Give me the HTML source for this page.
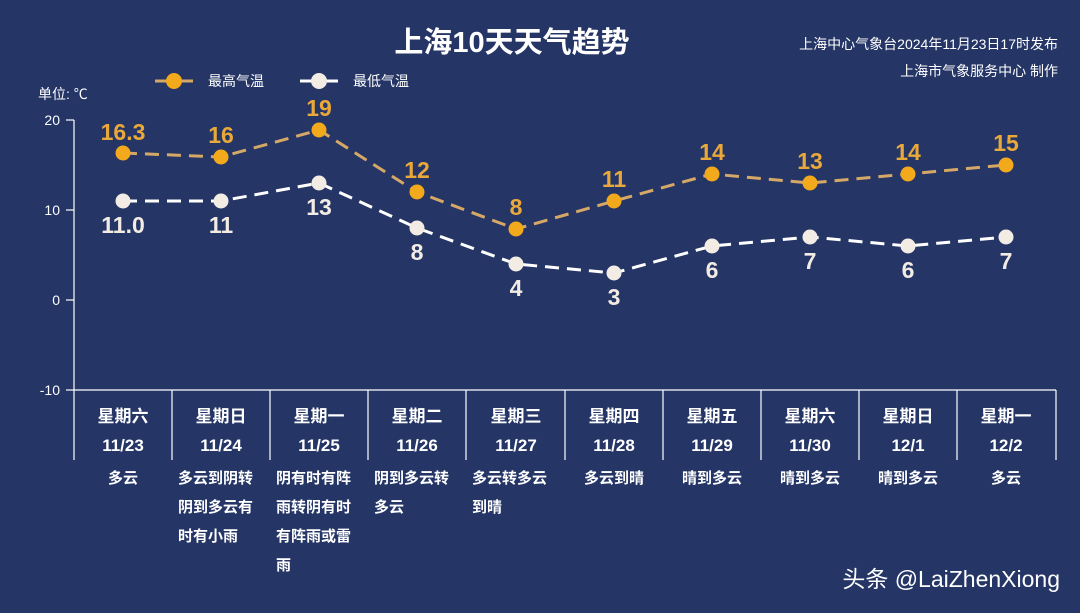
<!DOCTYPE html>
<html><head><meta charset="utf-8"><style>
body{margin:0;background:#243566;}
svg{display:block;font-family:"Liberation Sans","Noto Sans CJK SC",sans-serif;}
</style></head><body>
<svg width="1080" height="613" viewBox="0 0 1080 613" xmlns="http://www.w3.org/2000/svg">
<rect width="1080" height="613" fill="#243566"/>
<text x="512" y="52" text-anchor="middle" font-size="29" font-weight="bold" fill="#fff">上海10天天气趋势</text>
<text x="1058" y="49" text-anchor="end" font-size="14" fill="#fff">上海中心气象台2024年11月23日17时发布</text>
<text x="1058" y="76" text-anchor="end" font-size="14" fill="#fff">上海市气象服务中心 制作</text>
<line x1="155" y1="81" x2="193" y2="81" stroke="#d6a867" stroke-width="3"/>
<circle cx="174" cy="81" r="8" fill="#f2a91c"/>
<text x="208" y="86" font-size="14" fill="#fff">最高气温</text>
<line x1="300" y1="81" x2="338" y2="81" stroke="#fff" stroke-width="3"/>
<circle cx="319" cy="81" r="8" fill="#f3ece4"/>
<text x="353" y="86" font-size="14" fill="#fff">最低气温</text>
<text x="38" y="99" font-size="14" fill="#fff">单位: ℃</text>
<g fill="#fff" font-size="14" text-anchor="end">
<text x="60" y="125">20</text><text x="60" y="215">10</text><text x="60" y="305">0</text><text x="60" y="395">-10</text>
</g>
<g stroke="#fff" stroke-width="1.2">
<line x1="74" y1="120" x2="74" y2="460"/>
<line x1="66" y1="120" x2="74" y2="120"/><line x1="66" y1="210" x2="74" y2="210"/><line x1="66" y1="300" x2="74" y2="300"/><line x1="66" y1="390" x2="74" y2="390"/>
<line x1="74" y1="390" x2="1056" y2="390"/>
<line x1="172" y1="390" x2="172" y2="460"/><line x1="270" y1="390" x2="270" y2="460"/><line x1="368" y1="390" x2="368" y2="460"/><line x1="466" y1="390" x2="466" y2="460"/><line x1="565" y1="390" x2="565" y2="460"/><line x1="663" y1="390" x2="663" y2="460"/><line x1="761" y1="390" x2="761" y2="460"/><line x1="859" y1="390" x2="859" y2="460"/><line x1="957" y1="390" x2="957" y2="460"/><line x1="1056" y1="390" x2="1056" y2="460"/>
</g>
<polyline points="123,153 221,157 319,130 417,192 516,229 614,201 712,174 810,183 908,174 1006,165" fill="none" stroke="#d6a867" stroke-width="3" stroke-dasharray="14,8"/>
<polyline points="123,201 221,201 319,183 417,228 516,264 614,273 712,246 810,237 908,246 1006,237" fill="none" stroke="#fff" stroke-width="3" stroke-dasharray="14,8"/>
<g fill="#f2a91c">
<circle cx="123" cy="153" r="7.5"/><circle cx="221" cy="157" r="7.5"/><circle cx="319" cy="130" r="7.5"/><circle cx="417" cy="192" r="7.5"/><circle cx="516" cy="229" r="7.5"/><circle cx="614" cy="201" r="7.5"/><circle cx="712" cy="174" r="7.5"/><circle cx="810" cy="183" r="7.5"/><circle cx="908" cy="174" r="7.5"/><circle cx="1006" cy="165" r="7.5"/>
</g>
<g fill="#f3ece4">
<circle cx="123" cy="201" r="7.5"/><circle cx="221" cy="201" r="7.5"/><circle cx="319" cy="183" r="7.5"/><circle cx="417" cy="228" r="7.5"/><circle cx="516" cy="264" r="7.5"/><circle cx="614" cy="273" r="7.5"/><circle cx="712" cy="246" r="7.5"/><circle cx="810" cy="237" r="7.5"/><circle cx="908" cy="246" r="7.5"/><circle cx="1006" cy="237" r="7.5"/>
</g>
<g fill="#e9a83a" font-size="23" font-weight="bold" text-anchor="middle">
<text x="123" y="140">16.3</text><text x="221" y="143">16</text><text x="319" y="116">19</text><text x="417" y="178">12</text><text x="516" y="215">8</text><text x="614" y="187">11</text><text x="712" y="160">14</text><text x="810" y="169">13</text><text x="908" y="160">14</text><text x="1006" y="151">15</text>
</g>
<g fill="#f3ece4" font-size="23" font-weight="bold" text-anchor="middle">
<text x="123" y="233">11.0</text><text x="221" y="233">11</text><text x="319" y="215">13</text><text x="417" y="260">8</text><text x="516" y="296">4</text><text x="614" y="305">3</text><text x="712" y="278">6</text><text x="810" y="269">7</text><text x="908" y="278">6</text><text x="1006" y="269">7</text>
</g>
<g fill="#fff" font-size="17" font-weight="bold" text-anchor="middle">
<text x="123" y="422">星期六</text><text x="221" y="422">星期日</text><text x="319" y="422">星期一</text><text x="417" y="422">星期二</text><text x="516" y="422">星期三</text><text x="614" y="422">星期四</text><text x="712" y="422">星期五</text><text x="810" y="422">星期六</text><text x="908" y="422">星期日</text><text x="1006" y="422">星期一</text>
<text x="123" y="451">11/23</text><text x="221" y="451">11/24</text><text x="319" y="451">11/25</text><text x="417" y="451">11/26</text><text x="516" y="451">11/27</text><text x="614" y="451">11/28</text><text x="712" y="451">11/29</text><text x="810" y="451">11/30</text><text x="908" y="451">12/1</text><text x="1006" y="451">12/2</text>
</g>
<g fill="#fff" font-size="15" font-weight="bold">
<text x="123" y="483" text-anchor="middle">多云</text>
<text x="178" y="483">多云到阴转</text><text x="178" y="512">阴到多云有</text><text x="178" y="541">时有小雨</text>
<text x="276" y="483">阴有时有阵</text><text x="276" y="512">雨转阴有时</text><text x="276" y="541">有阵雨或雷</text><text x="276" y="570">雨</text>
<text x="374" y="483">阴到多云转</text><text x="374" y="512">多云</text>
<text x="472" y="483">多云转多云</text><text x="472" y="512">到晴</text>
<text x="614" y="483" text-anchor="middle">多云到晴</text>
<text x="712" y="483" text-anchor="middle">晴到多云</text>
<text x="810" y="483" text-anchor="middle">晴到多云</text>
<text x="908" y="483" text-anchor="middle">晴到多云</text>
<text x="1006" y="483" text-anchor="middle">多云</text>
</g>
<text x="1060" y="587" text-anchor="end" font-size="23" fill="#fff">头条 @LaiZhenXiong</text>
</svg>
</body></html>
